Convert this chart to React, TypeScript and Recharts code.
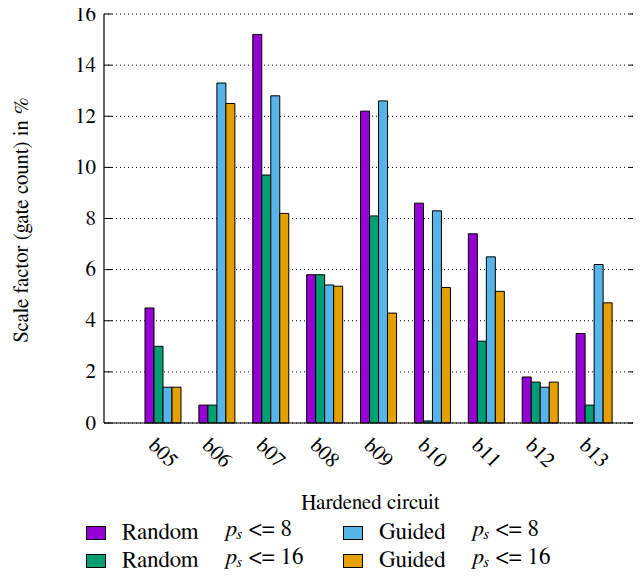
import React from 'react';
import { BarChart, Bar, XAxis, YAxis, CartesianGrid } from 'recharts';

const circuits = ['b05', 'b06', 'b07', 'b08', 'b09', 'b10', 'b11', 'b12', 'b13'];
const random8 = [4.5, 0.7, 15.2, 5.8, 12.2, 8.6, 7.4, 1.8, 3.5];
const random16 = [3.0, 0.7, 9.7, 5.8, 8.1, 0.08, 3.2, 1.6, 0.7];
const guided8 = [1.4, 13.3, 12.8, 5.4, 12.6, 8.3, 6.5, 1.4, 6.2];
const guided16 = [1.4, 12.5, 8.2, 5.35, 4.3, 5.3, 5.15, 1.6, 4.7];
const yTicks = [0, 2, 4, 6, 8, 10, 12, 14, 16];

const series = [
   { key: 'random8', label: 'Random', limit: '8', color: '#9400D3' },
   { key: 'random16', label: 'Random', limit: '16', color: '#009E73' },
   { key: 'guided8', label: 'Guided', limit: '8', color: '#56B4E9' },
   { key: 'guided16', label: 'Guided', limit: '16', color: '#E69F00' }
];

const data = circuits.map((name, i) => ({
   name,
   random8: random8[i],
   random16: random16[i],
   guided8: guided8[i],
   guided16: guided16[i]
}));

const FONT = 'FreeSerif, "Liberation Serif", serif';
const W = 641;
const H = 578;
const M = { top: 14, right: 4, left: 0, bottom: 69 };
const Y_AXIS_W = 104;

const YTick = (props: any) => {
   const { x, y, payload } = props;
   const axisX = Y_AXIS_W;
   const rightX = W - M.right;
   return (
      <g>
         <line x1={axisX} x2={axisX + 8} y1={y} y2={y} stroke="#000" />
         <line x1={rightX - 8} x2={rightX} y1={y} y2={y} stroke="#000" />
         <text
            x={x}
            y={y}
            textAnchor="end"
            dominantBaseline="central"
            fontFamily={FONT}
            fontSize={21}
            fill="#000">
            {payload.value}
         </text>
      </g>
   );
};

const XTick = (props: any) => {
   const { x, y, payload } = props;
   return (
      <g transform={`translate(${x},${y + 22})`}>
         <text
            transform="rotate(45)"
            textAnchor="middle"
            dominantBaseline="central"
            fontFamily={FONT}
            fontSize={21}
            fill="#000">
            {payload.value}
         </text>
      </g>
   );
};

const YLabel = () => (
   <text
      transform="translate(28,220) rotate(-90)"
      textAnchor="middle"
      fontFamily={FONT}
      fontSize={21}
      fill="#000">
      Scale factor (gate count) in <tspan fontStyle="italic">%</tspan>
   </text>
);

const PsLimit = ({ limit }: { limit: string }) => (
   <span>
      <i>p</i>
      <sub style={{ fontSize: 15, fontStyle: 'italic', verticalAlign: '-3px' }}>s</sub>
      <span style={{ marginLeft: 7 }}>&lt;= {limit}</span>
   </span>
);

const legendPos = [
   { left: 86, top: 518 },
   { left: 86, top: 546 },
   { left: 343, top: 518 },
   { left: 343, top: 546 }
];

const App = () => (
   <div style={{ position: 'relative', width: W, height: H, margin: -8, fontFamily: FONT }}>
      <BarChart
         width={W}
         height={H}
         data={data}
         margin={M}
         barSize={9}
         barGap={0}>
         <CartesianGrid
            horizontal
            vertical={false}
            stroke="#000"
            strokeDasharray="1 3"
         />
         <XAxis
            dataKey="name"
            interval={0}
            padding={{ left: 32, right: 16 }}
            height={86}
            axisLine={{ stroke: '#000', strokeWidth: 1.2 }}
            tickLine={false}
            tick={<XTick />}
            label={{
               value: 'Hardened circuit',
               position: 'insideBottom',
               offset: 0,
               fontFamily: FONT,
               fontSize: 21,
               fill: '#000'
            }}
         />
         <YAxis
            domain={[0, 16]}
            ticks={yTicks}
            width={Y_AXIS_W}
            axisLine={{ stroke: '#000', strokeWidth: 1.2 }}
            tickLine={false}
            tick={<YTick />}
            label={<YLabel />}
         />
         {series.map(s => (
            <Bar
               key={s.key}
               dataKey={s.key}
               fill={s.color}
               stroke="#000"
               strokeWidth={1}
               isAnimationActive={false}
            />
         ))}
      </BarChart>
      {series.map((s, i) => (
         <div
            key={s.key}
            style={{
               position: 'absolute',
               left: legendPos[i].left,
               top: legendPos[i].top,
               display: 'flex',
               alignItems: 'center',
               fontFamily: FONT,
               fontSize: 23,
               lineHeight: '24px',
               whiteSpace: 'nowrap'
            }}>
            <span
               style={{
                  display: 'inline-block',
                  width: 18,
                  height: 12,
                  background: s.color,
                  border: '1px solid #000',
                  marginRight: 16
               }}
            />
            <span style={{ marginRight: 27 }}>{s.label}</span>
            <PsLimit limit={s.limit} />
         </div>
      ))}
   </div>
);

export default App;
